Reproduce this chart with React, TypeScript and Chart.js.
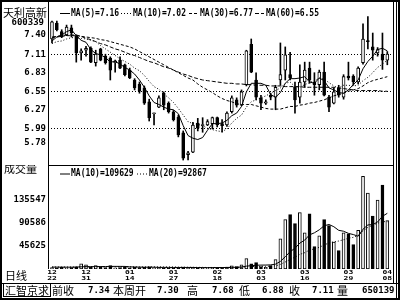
import React, { useEffect, useRef } from "react";
import { Chart, registerables } from "chart.js";
Chart.register(...registerables);

// ---- data ----
const dates = ["12/22","12/23","12/24","12/27","12/28","12/29","12/30","12/31","01/04","01/05","01/06","01/07","01/10","01/11","01/12","01/13","01/14","01/17","01/18","01/19","01/20","01/21","01/24","01/25","01/26","01/27","01/28","01/31","02/01","02/02","02/03","02/04","02/16","02/17","02/18","02/21","02/22","02/23","02/24","02/25","02/28","03/01","03/02","03/03","03/04","03/07","03/08","03/09","03/10","03/11","03/14","03/15","03/16","03/17","03/18","03/21","03/22","03/23","03/24","03/25","03/28","03/29","03/30","03/31","04/01","04/04","04/05","04/06","04/07","04/08"];
const labelIdx = [0, 7, 16, 25, 34, 43, 52, 61, 69];

const opens = [7.34,7.58,7.45,7.40,7.51,7.39,7.13,7.17,7.20,6.98, 7.19,7.08,7.05,6.98,7.02,6.95,6.87,6.72,6.66,6.60, 6.39,6.21,6.31,6.52,6.37,6.24,6.16,5.92,5.59,5.63, 6.07,6.03,6.04,6.06,6.15,6.06,6.04,6.24,6.42,6.34, 6.65,7.26,6.72,6.45,6.37,6.49,6.46,6.72,6.87,6.80, 6.61,6.46,6.69,6.90,6.69,6.65,6.84,6.46,6.37,6.60, 6.46,6.78,6.78,6.69,6.98,7.30,7.22,7.13,7.11,7.02];
const highs = [7.61,7.61,7.48,7.55,7.55,7.40,7.19,7.23,7.22,7.17, 7.20,7.11,7.07,7.02,7.07,6.96,6.90,6.74,6.69,6.63, 6.43,6.22,6.48,6.54,6.39,6.26,6.19,5.95,5.64,6.08, 6.14,6.15,6.12,6.16,6.16,6.12,6.24,6.48,6.45,6.57, 7.17,7.34,6.83,6.49,6.42,6.52,6.64,7.28,7.22,7.14, 6.69,6.95,6.99,6.99,6.83,6.87,6.99,6.49,6.60,6.64, 6.80,6.99,6.80,6.92,7.57,7.68,7.43,7.21,7.43,7.15];
const lows = [7.28,7.46,7.36,7.39,7.37,6.99,7.02,7.08,6.98,6.93, 7.01,6.96,6.72,6.84,6.89,6.78,6.74,6.57,6.52,6.35, 6.10,6.04,6.30,6.27,6.22,6.10,5.86,5.51,5.51,5.62, 5.95,5.93,6.03,5.98,6.01,5.93,6.02,6.22,6.31,6.33, 6.63,6.83,6.42,6.27,6.35,6.42,6.27,6.64,6.72,6.72, 6.22,6.37,6.61,6.67,6.49,6.57,6.48,6.24,6.36,6.46, 6.43,6.72,6.64,6.66,6.96,7.19,7.02,7.08,6.88,6.95];
const closes = [7.60,7.48,7.37,7.52,7.43,7.13,7.16,7.20,6.99,7.11, 7.02,6.98,6.87,7.01,6.90,6.80,6.75,6.60,6.55,6.37, 6.15,6.22,6.45,6.34,6.24,6.12,5.89,5.54,5.62,6.04, 5.99,6.04,6.09,6.15,6.04,6.03,6.22,6.45,6.34,6.54, 7.16,6.84,6.46,6.37,6.39,6.46,6.61,6.80,7.10,6.75, 6.42,6.69,6.87,6.72,6.65,6.84,6.49,6.31,6.54,6.49, 6.77,6.75,6.69,6.90,7.34,7.30,7.17,7.18,7.02,7.11];

const ma5 = [7.31,7.37,7.40,7.45,7.48,7.39,7.32,7.29,7.18,7.12, 7.10,7.06,6.99,7.00,6.96,6.91,6.87,6.81,6.72,6.61, 6.48,6.38,6.35,6.31,6.28,6.27,6.21,6.03,5.88,5.84, 5.82,5.85,5.96,6.06,6.06,6.07,6.11,6.18,6.22,6.32, 6.54,6.67,6.67,6.67,6.64,6.50,6.46,6.53,6.67,6.74, 6.74,6.75,6.77,6.69,6.67,6.75,6.71,6.60,6.57,6.53, 6.52,6.57,6.65,6.72,6.89,7.00,7.08,7.18,7.20,7.16];
const ma10 = [7.27,7.30,7.31,7.34,7.36,7.36,7.35,7.34,7.32,7.30, 7.24,7.19,7.14,7.09,7.04,7.00,6.96,6.90,6.86,6.79, 6.70,6.62,6.58,6.51,6.45,6.38,6.29,6.19,6.09,6.06, 6.05,6.03,5.99,5.97,5.95,5.94,5.98,6.07,6.14,6.19, 6.31,6.39,6.42,6.45,6.48,6.52,6.56,6.60,6.67,6.69, 6.62,6.61,6.65,6.68,6.71,6.75,6.73,6.68,6.63,6.60, 6.64,6.64,6.63,6.64,6.71,6.76,6.83,6.91,6.96,7.02];
const ma30 = [7.36,7.37,7.38,7.39,7.39,7.39,7.38,7.37,7.36,7.35, 7.33,7.32,7.30,7.28,7.26,7.24,7.22,7.19,7.15,7.11, 7.07,7.03,6.99,6.95,6.91,6.87,6.83,6.79,6.75,6.72, 6.66,6.61,6.57,6.53,6.48,6.44,6.41,6.39,6.36,6.35, 6.35,6.35,6.33,6.31,6.29,6.28,6.28,6.28,6.30,6.32, 6.32,6.34,6.35,6.37,6.38,6.40,6.42,6.45,6.48,6.50, 6.52,6.55,6.57,6.59,6.63,6.68,6.71,6.73,6.75,6.77];
const ma60 = [7.37,7.38,7.39,7.40,7.40,7.40,7.38,7.35,7.33,7.30, 7.27,7.25,7.22,7.19,7.17,7.14,7.11,7.09,7.06,7.03, 7.00,6.98,6.95,6.92,6.90,6.87,6.84,6.81,6.79,6.76, 6.74,6.72,6.71,6.70,6.69,6.68,6.67,6.67,6.66,6.66, 6.65,6.65,6.64,6.64,6.64,6.63,6.63,6.63,6.62,6.62, 6.62,6.62,6.61,6.61,6.61,6.61,6.61,6.61,6.61,6.60, 6.59,6.58,6.57,6.56,6.56,6.56,6.56,6.56,6.55,6.55];

const volumes = [3000,2500,3500,2500,3000,4500,10000,8000,4000,6500, 3500,3000,6500,2500,3000,3500,2500,4000,3000,3500, 4500,2500,3000,2500,2000,2500,3000,4000,3000,3500, 2500,2000,2500,3000,2500,3000,4000,6000,5000,8000, 20300,10400,12400,5000,3500,6500,18300,59600,97000,106900, 89200,110800,71400,108800,44150,65500,97000,85200,53000,36000, 71000,69000,48000,76000,182151,149500,104300,135800,165300,95239];
const volMa10 = [3800,3700,3700,3600,3600,3700,4300,4600,4600,4750, 4800,4850,5150,5150,5150,5050,4300,3900,3800,3500, 3600,3550,3200,3200,3100,3000,3050,3050,3050,3050, 2850,2800,2750,2800,2850,2900,3000,3200,3400,3850, 5630,6470,7460,7660,7760,8110,9540,14900,24100,33990, 40880,50920,56820,67200,71265,77165,85035,87595,83195,76105, 74285,70105,67765,64485,78285,86685,87415,92475,103705,109629];
const volMa20 = [3900,3900,3900,3850,3850,3900,4150,4300,4300,4400, 4400,4400,4500,4450,4400,4350,4200,4150,4100,4125, 4200,4200,4175,4175,4125,4025,3675,3475,3425,3275, 3225,3175,2975,3000,2975,2950,3025,3125,3225,3450, 4240,4635,5105,5230,5305,5505,6270,9050,13750,18920, 23255,28695,32140,37430,39513,42638,47288,51248,53648,55048, 57583,60513,62293,65843,74775,81925,86225,90035,93450,92867];

const priceTicks = [7.40, 7.11, 6.83, 6.55, 6.27, 5.99, 5.78];
const priceGrid = [7.11, 6.55, 5.99];
const volTicks = [45625, 90586, 135547];

const X_MIN = -0.82;
const X_MAX = 70.17;
const P_MIN = 5.435;
const P_MAX = 7.899;
const V_MAX = 204644;

const MONO = '"DejaVu Sans Mono", monospace';
const CJK = '"Noto Sans CJK SC", sans-serif';

function txt(c: any, s: string, x: number, y: number, font: string, sx = 1, align = "left", sy = 1) {
  c.save();
  c.font = font;
  c.fillStyle = "#000";
  c.textBaseline = "middle";
  c.textAlign = align;
  c.translate(x, y);
  c.scale(sx, sy);
  c.fillText(s, 0, 0);
  c.restore();
}
function sample(c: any, x0: number, x1: number, y: number, dash: number[]) {
  c.save();
  c.strokeStyle = "#000";
  c.lineWidth = 1;
  c.setLineDash(dash);
  c.beginPath();
  c.moveTo(x0, y + 0.5);
  c.lineTo(x1, y + 0.5);
  c.stroke();
  c.restore();
}
function fitY(s: any) {
  s.width = 48;
  s.paddingTop = 0;
  s.paddingBottom = 0;
}
function fitX(s: any) {
  s.height = 31;
  s.paddingLeft = 0;
  s.paddingRight = 0;
}

const LEG = `bold 10px ${MONO}`;
const NUM = `bold 9px ${MONO}`;
const DATEF = `bold 8px ${MONO}`;
const HAN = `11px ${CJK}`;

export default function App() {
  const priceRef = useRef<HTMLCanvasElement>(null);
  const volRef = useRef<HTMLCanvasElement>(null);

  useEffect(() => {
    const idx = closes.map((_, i) => i);
    const last = closes.length - 1;
    const wk = [65, 66, 67, 68, 69];
    const wkHigh = Math.max(...wk.map((i) => highs[i]));
    const wkLow = Math.min(...wk.map((i) => lows[i]));
    const wkVol = wk.reduce((s, i) => s + volumes[i], 0);

    const frameA = {
      id: "frameA",
      beforeDraw(chart: any) {
        const c = chart.ctx;
        c.save();
        c.fillStyle = "#fff";
        c.fillRect(0, 0, chart.width, chart.height);
        c.restore();
      },
      afterDraw(chart: any) {
        const c = chart.ctx;
        const { left, right } = chart.chartArea;
        const h = chart.height;
        c.save();
        c.fillStyle = "#000";
        c.fillRect(0, 0, chart.width, 2);
        c.fillRect(0, 0, 2, h);
        c.fillRect(chart.width - 2, 0, 2, h);
        c.fillRect(left, 0, 1, h);
        c.fillRect(right, 0, 1, h);
        c.fillRect(right + 3, 0, 1, h);
        c.restore();
        txt(c, "天利高新", 3, 12.5, HAN);
        txt(c, "600339", 44, 22.5, NUM, 1, "right");
        const y = 13;
        sample(c, 60, 70, y, []);
        txt(c, `MA(5)=${ma5[last].toFixed(2)}`, 71, y, LEG, 0.8);
        sample(c, 121, 131, y, [1, 2]);
        txt(c, `MA(10)=${ma10[last].toFixed(2)}`, 133, y, LEG, 0.8);
        sample(c, 189, 198, y, [3, 2]);
        txt(c, `MA(30)=${ma30[last].toFixed(2)}`, 200, y, LEG, 0.8);
        sample(c, 255, 264, y, [4, 2]);
        txt(c, `MA(60)=${ma60[last].toFixed(2)}`, 266, y, LEG, 0.8);
      },
    };

    const frameB = {
      id: "frameB",
      beforeDraw(chart: any) {
        const c = chart.ctx;
        c.save();
        c.fillStyle = "#fff";
        c.fillRect(0, 0, chart.width, chart.height);
        c.restore();
      },
      afterDraw(chart: any) {
        const c = chart.ctx;
        const { left, right, bottom } = chart.chartArea;
        const h = chart.height;
        const w = chart.width;
        c.save();
        c.fillStyle = "#000";
        c.fillRect(left, 0, right - left + 1, 1);
        c.fillRect(0, 0, 2, h);
        c.fillRect(w - 2, 0, 2, h);
        c.fillRect(left, 0, 1, bottom);
        c.fillRect(right, 0, 1, 118);
        c.fillRect(right + 3, 0, 1, h);
        c.fillRect(0, 118, w, 1);
        c.fillRect(0, h - 2, w, 2);
        c.strokeStyle = "#000";
        c.lineWidth = 1;
        c.strokeRect(3.5, 118.5, 47, 13);
        c.restore();
        // date labels placed on the x scale
        const xs = chart.scales.x;
        labelIdx.forEach((i) => {
          const px = xs.getPixelForValue(i);
          const [m, d] = dates[i].split("/");
          txt(c, m, px, 107.8, DATEF, 1, "center", 0.7);
          txt(c, d, px, 114, DATEF, 1, "center", 0.7);
        });
        txt(c, "成交量", 4, 4, HAN);
        txt(c, "日线", 5, 111, HAN);
        const y = 8.5;
        sample(c, 60, 70, y, []);
        txt(c, `MA(10)=${volMa10[last]}`, 71, y, LEG, 0.8);
        sample(c, 137, 147, y, [1, 2]);
        txt(c, `MA(20)=${volMa20[last]}`, 149, y, LEG, 0.8);
        const by = 125.5;
        txt(c, "汇智京求", 5, by, HAN);
        txt(c, "前收", 52, by, HAN);
        txt(c, closes[64].toFixed(2), 88, by, NUM);
        txt(c, "本周开", 113, by, HAN);
        txt(c, opens[65].toFixed(2), 157, by, NUM);
        txt(c, "高", 187, by, HAN);
        txt(c, wkHigh.toFixed(2), 212, by, NUM);
        txt(c, "低", 239, by, HAN);
        txt(c, wkLow.toFixed(2), 262, by, NUM);
        txt(c, "收", 289, by, HAN);
        txt(c, closes[last].toFixed(2), 312, by, NUM);
        txt(c, "量", 337, by, HAN);
        txt(c, String(wkVol), 362, by, NUM);
      },
    };

    const line = (vals: number[], dash: number[]) => ({
      type: "line",
      data: idx.map((i) => ({ x: i, y: vals[i] })),
      borderColor: "#000",
      borderWidth: 1,
      borderDash: dash,
      pointRadius: 0,
      tension: 0,
      order: 0,
    });

    const priceChart = new Chart(priceRef.current as HTMLCanvasElement, {
      type: "bar",
      data: {
        datasets: [
          line(ma5, []),
          line(ma10, [1, 2]),
          line(ma30, [3, 2]),
          line(ma60, [4, 2]),
          {
            type: "bar",
            data: idx.map((i) => ({ x: i, y: [opens[i], closes[i]] })),
            backgroundColor: idx.map((i) => (closes[i] > opens[i] ? "#fff" : "#000")),
            borderColor: "#000",
            borderWidth: 1,
            borderSkipped: false,
            barThickness: 3,
            grouped: false,
            minBarLength: 1,
            order: 1,
          },
          {
            type: "bar",
            data: idx.map((i) => ({ x: i, y: [lows[i], highs[i]] })),
            backgroundColor: "#000",
            borderWidth: 0,
            barThickness: 1,
            grouped: false,
            order: 2,
          },
        ] as any,
      },
      options: {
        responsive: false,
        animation: false,
        events: [],
        devicePixelRatio: 1,
        layout: { padding: { left: 0, right: 7, top: 2, bottom: 0 } },
        plugins: { legend: { display: false }, tooltip: { enabled: false } },
        scales: {
          x: { type: "linear", display: false, min: X_MIN, max: X_MAX, offset: false },
          y: {
            type: "linear",
            position: "left",
            min: P_MIN,
            max: P_MAX,
            afterFit: fitY,
            afterBuildTicks: (a: any) => { a.ticks = priceTicks.map((v) => ({ value: v })); },
            grid: {
              drawTicks: false,
              lineWidth: 1,
              color: (ctx: any) => (ctx.tick && priceGrid.includes(ctx.tick.value) ? "#000" : "rgba(0,0,0,0)"),
            },
            border: { display: false, dash: [1, 2] },
            ticks: {
              autoSkip: false,
              padding: 2,
              color: "#000",
              font: { family: MONO, size: 9, weight: "bold" },
              callback: (v: any) => Number(v).toFixed(2),
            },
          },
        },
      } as any,
      plugins: [frameA],
    });

    const volChart = new Chart(volRef.current as HTMLCanvasElement, {
      type: "bar",
      data: {
        datasets: [
          line(volMa10, []),
          line(volMa20, [1, 2]),
          {
            type: "bar",
            data: idx.map((i) => ({ x: i, y: volumes[i] })),
            backgroundColor: idx.map((i) => (closes[i] >= opens[i] ? "#fff" : "#000")),
            borderColor: "#000",
            borderWidth: 1,
            borderSkipped: false,
            barThickness: 3,
            grouped: false,
            minBarLength: 1,
            order: 1,
          },
        ] as any,
      },
      options: {
        responsive: false,
        animation: false,
        events: [],
        devicePixelRatio: 1,
        layout: { padding: { left: 0, right: 7, top: 0, bottom: 0 } },
        plugins: { legend: { display: false }, tooltip: { enabled: false } },
        scales: {
          x: {
            type: "linear",
            min: X_MIN,
            max: X_MAX,
            offset: false,
            grid: { display: false, drawTicks: false },
            border: { display: false },
            afterFit: fitX,
            afterBuildTicks: (a: any) => { a.ticks = labelIdx.map((v) => ({ value: v })); },
            ticks: { display: false },
          },
          y: {
            type: "linear",
            position: "left",
            min: 0,
            max: V_MAX,
            afterFit: fitY,
            afterBuildTicks: (a: any) => { a.ticks = volTicks.map((v) => ({ value: v })); },
            grid: { display: false, drawTicks: false },
            border: { display: false },
            ticks: {
              autoSkip: false,
              padding: 2,
              color: "#000",
              font: { family: MONO, size: 9, weight: "bold" },
              callback: (v: any) => String(v),
            },
          },
        },
      } as any,
      plugins: [frameB],
    });

    return () => {
      priceChart.destroy();
      volChart.destroy();
    };
  }, []);

  return (
    <div style={{ position: "fixed", left: 0, top: 0, width: 400, height: 300, background: "#fff" }}>
      <canvas ref={priceRef} width={400} height={165} style={{ position: "absolute", left: 0, top: 0, width: 400, height: 165 }} />
      <canvas ref={volRef} width={400} height={135} style={{ position: "absolute", left: 0, top: 165, width: 400, height: 135 }} />
    </div>
  );
}
